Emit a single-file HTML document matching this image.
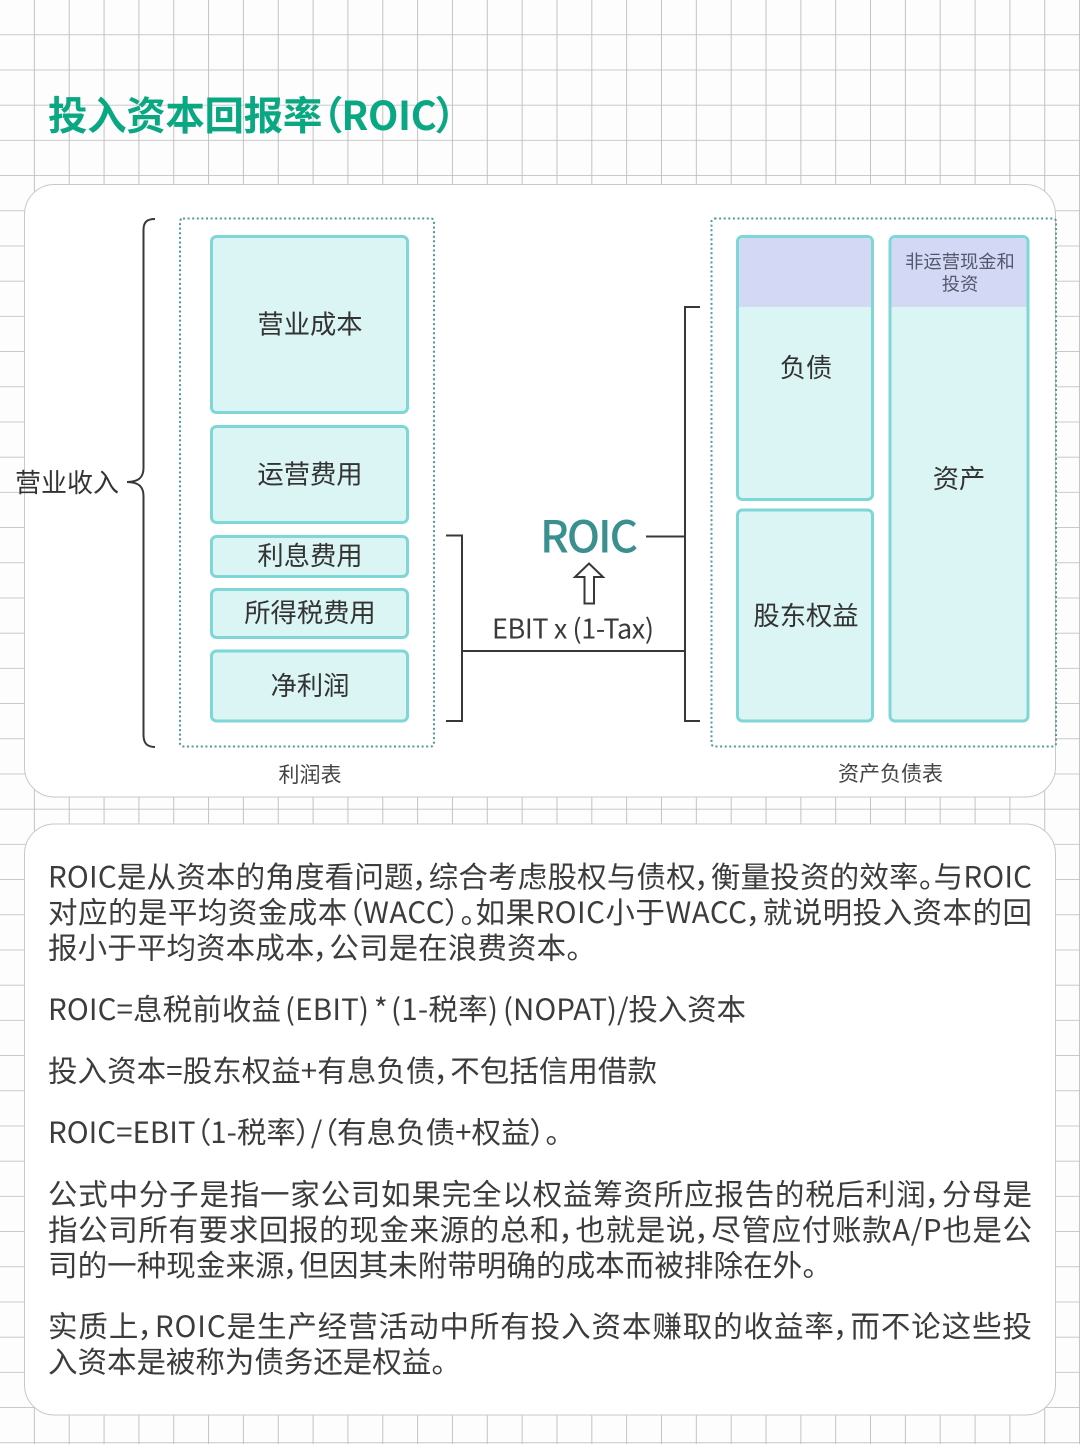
<!DOCTYPE html>
<html lang="zh-CN">
<head>
<meta charset="utf-8">
<style>
html,body{margin:0;padding:0;background:#fdfdfd;}
svg{display:block;}
text{font-family:"Noto Sans CJK SC","Liberation Sans",sans-serif;font-feature-settings:"palt";}
.b{font-size:29.5px;fill:#3c3c3c;}
.l{font-size:26.3px;fill:#333;text-anchor:middle;}
.box{fill:#daf5f3;stroke:#7fd6d6;stroke-width:3;}
.dot{fill:none;stroke:#4f9a9c;stroke-width:2;stroke-dasharray:2 2.6;}
.ln{fill:none;stroke:#383838;stroke-width:2;}
</style>
</head>
<body>
<svg width="1080" height="1444" viewBox="0 0 1080 1444" xmlns="http://www.w3.org/2000/svg">
<defs>
<pattern id="g" width="34.84" height="35.2" patternUnits="userSpaceOnUse">
<rect x="33.94" y="0" width="1.2" height="35.2" fill="#bdbdbd"/>
<rect x="0" y="34.4" width="34.84" height="1.3" fill="#bdbdbd"/>
</pattern>
</defs>
<rect width="1080" height="1444" fill="#fdfdfd"/>
<rect width="1080" height="1444" fill="url(#g)"/>

<text x="48" y="130" font-size="39.5" font-weight="700" fill="#0aa882" textLength="408">投入资本回报率（ROIC）</text>

<rect x="24.5" y="184.5" width="1031" height="612.5" rx="30" fill="#fff" stroke="#c8c8c8"/>
<rect x="24.5" y="824" width="1031" height="591" rx="30" fill="#fff" stroke="#c8c8c8"/>

<!-- Left dotted group -->
<rect class="dot" x="180" y="218.5" width="254" height="528" rx="3"/>
<rect class="box" x="211.5" y="236.5" width="196" height="176" rx="5"/>
<rect class="box" x="211.5" y="426.5" width="196" height="96" rx="5"/>
<rect class="box" x="211.5" y="536.5" width="196" height="40" rx="5"/>
<rect class="box" x="211.5" y="589.5" width="196" height="48" rx="5"/>
<rect class="box" x="211.5" y="651" width="196" height="70" rx="5"/>
<text class="l" x="310" y="333.500">营业成本</text>
<text class="l" x="310" y="483.500">运营费用</text>
<text class="l" x="310" y="565">利息费用</text>
<text class="l" x="310" y="622">所得税费用</text>
<text class="l" x="310" y="695">净利润</text>
<text x="310" y="782" font-size="21" fill="#444" text-anchor="middle">利润表</text>

<!-- Brace -->
<path class="ln" d="M155 219 C147 219 143.500 222 143.500 230 L143.500 468 C143.500 477 139 482 127 482 C139 482 143.500 487 143.500 496 L143.500 735 C143.500 743 147 747 155 747"/>
<text x="15" y="492" font-size="26" fill="#333" textLength="104">营业收入</text>

<!-- Right dotted group -->
<rect class="dot" x="711.500" y="218.500" width="344.500" height="528" rx="3"/>
<rect class="box" x="737.500" y="236.500" width="135" height="263" rx="5"/>
<rect class="box" x="737.500" y="510" width="135" height="211" rx="5"/>
<rect class="box" x="890" y="236.500" width="138" height="484.500" rx="5"/>
<path d="M739 243 Q739 238 744 238 L866 238 Q871 238 871 243 L871 307 L739 307 Z" fill="#d3d9f5"/>
<path d="M891.500 243 Q891.500 238 896.500 238 L1021.500 238 Q1026.500 238 1026.500 243 L1026.500 307 L891.500 307 Z" fill="#d3d9f5"/>
<text class="l" x="806" y="377">负债</text>
<text class="l" x="806" y="625">股东权益</text>
<text class="l" x="959" y="488">资产</text>
<text x="960" y="268" font-size="18.300" fill="#55586a" text-anchor="middle">非运营现金和</text>
<text x="960" y="290.500" font-size="18.300" fill="#55586a" text-anchor="middle">投资</text>
<text x="890.500" y="781" font-size="21" fill="#444" text-anchor="middle">资产负债表</text>

<!-- Connectors -->
<path class="ln" d="M446 535.500 L462 535.500 L462 721 L446 721"/>
<path class="ln" d="M462 651 L685 651"/>
<path class="ln" d="M700 307 L685 307 L685 721 L700 721"/>
<path class="ln" d="M646 536.500 L685 536.500"/>
<path d="M589 563.500 L603 577 L594 577 L594 603.500 L584.500 603.500 L584.500 577 L575 577 Z" fill="#fff" stroke="#383838" stroke-width="2"/>
<text x="540" y="552.500" font-size="44" font-weight="500" fill="#3a8f8f" textLength="98">ROIC</text>
<text x="492" y="638.500" font-size="27" fill="#3a3a3a" textLength="162">EBIT x (1-Tax)</text>

<!-- Body -->
<text class="b" x="48" y="887.500" textLength="984">ROIC是从资本的角度看问题，综合考虑股权与债权，衡量投资的效率。与ROIC</text>
<text class="b" x="48" y="923" textLength="984">对应的是平均资金成本（WACC）。如果ROIC小于WACC，就说明投入资本的回</text>
<text class="b" x="48" y="958.500" textLength="533">报小于平均资本成本，公司是在浪费资本。</text>
<text class="b" x="48" y="1020" textLength="233">ROIC=息税前收益</text>
<text class="b" x="285" y="1020" textLength="84">(EBIT)</text>
<text class="b" x="374" y="1020">*</text>
<text class="b" x="391" y="1020" textLength="107">(1-税率)</text>
<text class="b" x="503" y="1020" textLength="114">(NOPAT)</text>
<text class="b" x="617" y="1020" textLength="129">/投入资本</text>
<text class="b" x="48" y="1081.500" textLength="609">投入资本=股东权益+有息负债，不包括信用借款</text>
<text class="b" x="48" y="1143" textLength="512">ROIC=EBIT（1-税率）/（有息负债+权益）。</text>
<text class="b" x="48" y="1205" textLength="984">公式中分子是指一家公司如果完全以权益筹资所应报告的税后利润，分母是</text>
<text class="b" x="48" y="1240.500" textLength="984">指公司所有要求回报的现金来源的总和，也就是说，尽管应付账款A/P也是公</text>
<text class="b" x="48" y="1276" textLength="769">司的一种现金来源，但因其未附带明确的成本而被排除在外。</text>
<text class="b" x="48" y="1337" textLength="984">实质上，ROIC是生产经营活动中所有投入资本赚取的收益率，而不论这些投</text>
<text class="b" x="48" y="1372.500" textLength="398">入资本是被称为债务还是权益。</text>
</svg>
</body>
</html>
